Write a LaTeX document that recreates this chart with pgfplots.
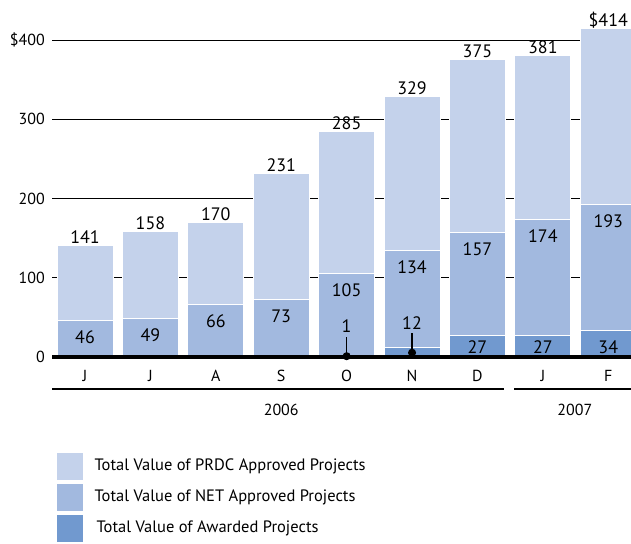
\documentclass[border=0pt]{standalone}
\usepackage{fontspec}
\setmainfont{PT Sans}
\usepackage{pgfplots}
\pgfplotsset{compat=1.18}
\definecolor{prdc}{HTML}{C4D2EB}
\definecolor{net}{HTML}{A2B9DF}
\definecolor{awd}{HTML}{7199CF}
\begin{document}
\begin{tikzpicture}[x=1pt,y=1pt]
\useasboundingbox (0,0) rectangle (631,543);
\begin{axis}[
  at={(52pt,186pt)}, anchor=south west,
  scale only axis, width=579pt, height=357pt,
  xmin=-0.505, xmax=8.348, ymin=0, ymax=450.5,
  clip=false,
  axis line style={draw=none},
  major tick length=0pt,
  xtick={0,...,8},
  xticklabels={J,J,A,S,O,N,D,J,F},
  ytick={0,100,200,300,400},
  yticklabels={0,100,200,300,\$400},
  ymajorgrids,
  grid style={black, line width=0.9pt},
  /pgf/number format/assume math mode=true,
  ticklabel style={font=\fontsize{16}{19}\selectfont},
  xticklabel style={anchor=base, inner sep=0pt, yshift=-24.5pt},
  yticklabel style={anchor=base east, inner sep=0pt, xshift=-7pt, yshift=-5.5pt},
  ybar, bar width=56pt, bar shift=0pt,
  every axis plot/.append style={draw=white, line width=1pt},
  legend style={at={(0.0086,-0.269)}, anchor=north west, draw=none, fill=none,
    inner sep=0pt, row sep=4pt, font=\fontsize{16.5}{19}\selectfont,
    nodes={inner sep=0pt, text height=11pt, text depth=4pt, anchor=west}},
  legend cell align=left,
  legend image code/.code={\fill[#1, draw=none] (0pt,-13.5pt) rectangle (26pt,13.5pt); \path (37pt,0pt);},
  nodes near coords style={font=\fontsize{18}{20}\selectfont, black},
]
\addplot[fill=prdc, nodes near coords, point meta=explicit symbolic,
  every node near coord/.append style={anchor=base, yshift=2pt}]
  coordinates {(0,141)[141] (1,158)[158] (2,170)[170] (3,231)[231] (4,285)[285] (5,329)[329] (6,375)[375] (7,381)[381] (8,414)[\$414]};
\addlegendentry{Total Value of PRDC Approved Projects}
\addplot[fill=net, nodes near coords, every node near coord/.append style={anchor=base, yshift=-23pt}]
  coordinates {(0,46) (1,49) (2,66) (3,73) (4,105) (5,134) (6,157) (7,174) (8,193)};
\addlegendentry{Total Value of NET Approved Projects}
\addplot[fill=awd]
  coordinates {(0,0) (1,0) (2,0) (3,0) (4,1) (5,12) (6,27) (7,27) (8,34)};
\addlegendentry{\hspace{2pt}Total Value of Awarded Projects}
% labels for awarded values
\addplot[draw=none, fill=none, forget plot, nodes near coords, point meta=explicit symbolic,
  every node near coord/.append style={anchor=base, yshift=0pt}]
  coordinates {(4,31.5)[1] (5,35)[12] (6,5)[27] (7,5)[27] (8,5)[34]};
% leader lines and dots
\addplot[forget plot, sharp plot, draw=black, line width=1.2pt, fill=none]
  coordinates {(4,1) (4,25)};
\addplot[forget plot, sharp plot, draw=black, line width=1.2pt, fill=none]
  coordinates {(5,5.4) (5,30)};
\addplot[forget plot, only marks, mark=*, mark size=3.5pt, mark options={fill=black, draw=black}]
  coordinates {(4,1) (5,5.4)};
\draw[black, line width=4pt] (axis cs:-0.505,0) -- (axis cs:8.348,0);
\draw[black, line width=2.5pt] (axis cs:-0.505,-40.4) -- (axis cs:6.407,-40.4);
\draw[black, line width=2.5pt] (axis cs:6.56,-40.4) -- (axis cs:8.348,-40.4);
\node[anchor=base, inner sep=0pt, font=\fontsize{16}{19}\selectfont] at (axis cs:3,-73.2) {2006};
\node[anchor=base, inner sep=0pt, font=\fontsize{16}{19}\selectfont] at (axis cs:7.49,-73.2) {2007};
\end{axis}
\end{tikzpicture}
\end{document}
